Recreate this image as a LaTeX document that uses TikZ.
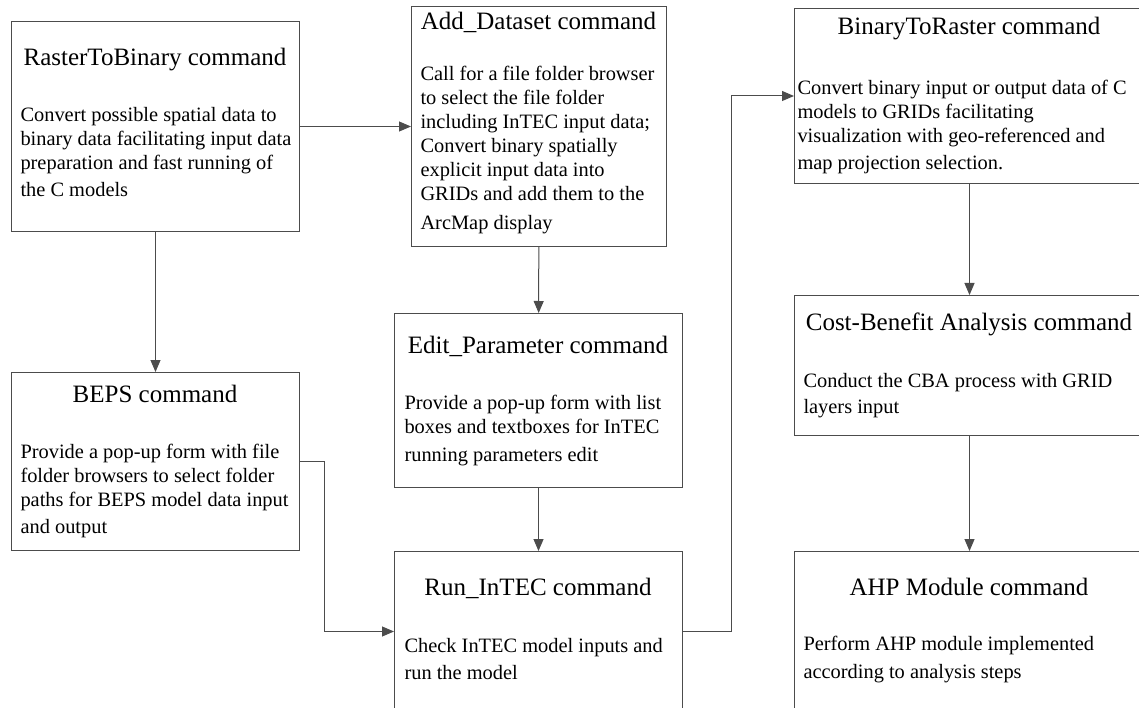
\documentclass[tikz,border=0pt]{standalone}
\usepackage{fontspec}
\setmainfont{Liberation Serif}
\usetikzlibrary{arrows.meta}
\colorlet{lc}{black!70}

\begin{document}
\begin{tikzpicture}[x=1pt, y=-1pt, line width=1pt,
		box/.style={draw=lc, rectangle, anchor=north west, inner sep=0pt},
		ttl/.style={anchor=base, inner sep=0pt, font=\fontsize{25}{30}\selectfont},
		txt/.style={anchor=base west, align=left, inner sep=0pt, font=\fontsize{20.4}{24}\selectfont},
		>={Triangle[length=12pt, width=10pt]}]
	\clip (0,0) rectangle (1139,708);
	\fill[white] (0,0) rectangle (1139,708);
	% boxes
	\node[box, minimum width=288, minimum height=210] (R2B)at(11, 21) {};
	\node[box, minimum width=255, minimum height=240] (AD)at(411, 6) {};
	\node[box, minimum width=350, minimum height=175] (B2R)at(794, 8) {};
	\node[box, minimum width=288, minimum height=178] (BEPS)at(11, 372) {};
	\node[box, minimum width=288, minimum height=174] (EP)at(394, 313) {};
	\node[box, minimum width=288, minimum height=160] (RUN)at(394, 551) {};
	\node[box, minimum width=350, minimum height=140] (CBA)at(794, 295) {};
	\node[box, minimum width=350, minimum height=160] (AHP)at(794, 551) {};
	% titles
	\node[ttl] (R2Bt)at(155, 66) {RasterToBinary command};
	\node[ttl] (ADt)at(538.5, 30) {Add\_Dataset command};
	\node[ttl] (B2Rt)at(969, 35) {BinaryToRaster command};
	\node[ttl] (BEPSt)at(155, 402) {BEPS command};
	\node[ttl] (EPt)at(538, 353) {Edit\_Parameter command};
	\node[ttl] (RUNt)at(538, 595) {Run\_InTEC command};
	\node[ttl] (CBAt)at(969, 330) {Cost-Benefit Analysis command};
	\node[ttl] (AHPt)at(969, 595) {AHP Module command};
	% descriptions (placed at the baseline of their last line)
	\node[txt] (R2Bd)at(20, 197) {Convert possible spatial data to\\binary data facilitating input data\\preparation and fast running of\\[3pt]the C models};
	\node[txt] (ADd)at(420, 230) {Call for a file folder browser\\to select the file folder\\including InTEC input data;\\Convert binary spatially\\explicit input data into\\GRIDs and add them to the\\[5pt]ArcMap display};
	\node[txt] (B2Rd)at(797, 170) {Convert binary input or output data of C\\models to GRIDs facilitating\\visualization with geo-referenced and\\[3pt]map projection selection.};
	\node[txt] (BEPSd)at(20, 533) {Provide a pop-up form with file\\folder browsers to select folder\\paths for BEPS model data input\\[3pt]and output};
	\node[txt] (EPd)at(404, 461) {Provide a pop-up form with list\\boxes and textboxes for InTEC\\[4pt]running parameters edit};
	\node[txt] (RUNd)at(404, 679) {Check InTEC model inputs and\\[3pt]run the model};
	\node[txt] (CBAd)at(803, 413) {Conduct the CBA process with GRID\\[2pt]layers input};
	\node[txt] (AHPd)at(803, 678) {Perform AHP module implemented\\[4pt]according to analysis steps};
	% connectors
	\draw[->, lc] (R2B) -- (AD);
	\draw[->, lc] (R2B) -- (BEPS);
	\draw[->, lc] (AD) -- (EP);
	\draw[->, lc] (EP) -- (RUN);
	\draw[->, lc] (BEPS.east) -- ++(24, 0) |- (RUN.west);
	\draw[->, lc] (RUN.east) -- ++(48, 0) |- (B2R.west);
	\draw[->, lc] (B2R) -- (CBA);
	\draw[->, lc] (CBA) -- (AHP);
\end{tikzpicture}
\end{document}
